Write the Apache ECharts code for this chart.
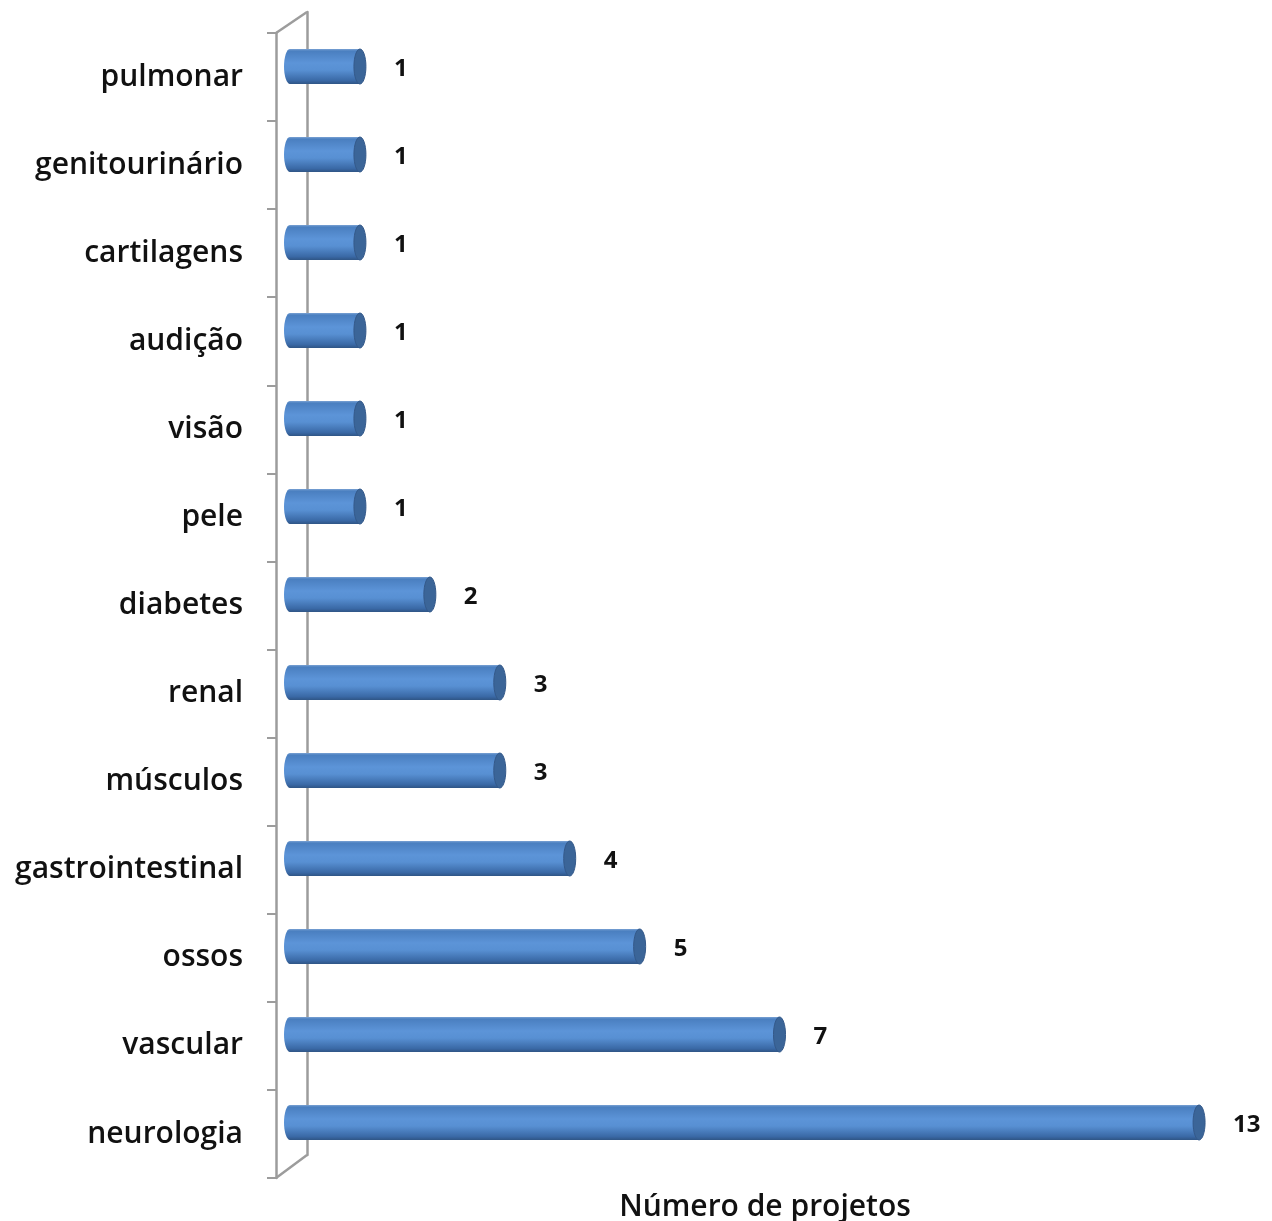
<!DOCTYPE html>
<html>
<head>
    <meta charset="utf-8">
    <title>Número de projetos</title>
    <script src="https://cdn.jsdelivr.net/npm/echarts@6/dist/echarts.min.js"></script>
    <style>
        html, body { margin: 0; padding: 0; background: #fff; }
        #main { width: 1272px; height: 1221px; }
    </style>
</head>
<body>
<div id="main"></div>
<script>
    // dados (de cima para baixo)
    var categorias = ['pulmonar', 'genitourinário', 'cartilagens', 'audição', 'visão', 'pele',
        'diabetes', 'renal', 'músculos', 'gastrointestinal', 'ossos', 'vascular', 'neurologia'];
    var projetos = [1, 1, 1, 1, 1, 1, 2, 3, 3, 4, 5, 7, 13];
    var eixoNome = 'Número de projetos';

    var fonte = '"Open Sans", "Noto Sans", sans-serif';
    var corParede = '#9c9c9c';

    // parede 3D: frente / fundo
    var frente = {left: 276, top: 33, height: 1145};
    var fundo = {left: 307, top: 12, height: 1143};
    var barras = {left: 290, top: 22.5, height: 1144};

    var myChart = echarts.init(document.getElementById('main'));

    var dados = projetos.map(function (v, i) { return [v, i]; });

    var option = {
        animation: false,
        grid: [
            {left: frente.left, top: frente.top, height: frente.height, width: 978, outerBoundsMode: 'none'},
            {left: fundo.left, top: fundo.top, height: fundo.height, width: 900, outerBoundsMode: 'none'},
            {left: barras.left, top: barras.top, height: barras.height, width: 979, outerBoundsMode: 'none'}
        ],
        xAxis: [
            {gridIndex: 0, type: 'value', min: 0, max: 14, axisLine: {show: false}, axisTick: {show: false},
                axisLabel: {show: false}, splitLine: {show: false},
                name: eixoNome, nameLocation: 'middle', nameGap: 14,
                nameTextStyle: {fontFamily: fonte, fontSize: 30, fontWeight: 600, color: '#111'}},
            {gridIndex: 1, type: 'value', show: false, min: 0, max: 14},
            {gridIndex: 2, type: 'value', show: false, min: 0, max: 14}
        ],
        yAxis: [
            {gridIndex: 0, type: 'category', inverse: true, data: categorias,
                axisLine: {show: true, lineStyle: {color: corParede, width: 2.5}},
                axisTick: {show: true, length: 9, lineStyle: {color: corParede, width: 2}},
                axisLabel: {margin: 33, padding: [14, 0, 0, 0], fontFamily: fonte, fontSize: 30,
                    fontWeight: 600, color: '#111'}},
            {gridIndex: 1, type: 'category', inverse: true, data: categorias,
                axisLine: {show: true, lineStyle: {color: corParede, width: 2.5}},
                axisTick: {show: false}, axisLabel: {show: false}},
            {gridIndex: 2, type: 'category', inverse: true, data: categorias, show: false}
        ],
        graphic: [
            {type: 'line', shape: {x1: frente.left, y1: frente.top, x2: fundo.left, y2: fundo.top},
                style: {stroke: corParede, lineWidth: 2.5}},
            {type: 'line', shape: {x1: frente.left, y1: frente.top + frente.height,
                    x2: fundo.left, y2: fundo.top + fundo.height},
                style: {stroke: corParede, lineWidth: 2.5}}
        ],
        series: [{
            type: 'custom',
            xAxisIndex: 2,
            yAxisIndex: 2,
            data: dados,
            encode: {x: 0, y: 1},
            renderItem: function (params, api) {
                var v = api.value(0);
                var ini = api.coord([0, api.value(1)]);
                var fim = api.coord([v, api.value(1)]);
                var h = 35;
                var rx = 6;
                var y0 = ini[1] - h / 2;
                var grad = new echarts.graphic.LinearGradient(0, 0, 0, 1, [
                    {offset: 0, color: '#7aa2d4'},
                    {offset: 0.06, color: '#4a7fc0'},
                    {offset: 0.4, color: '#5c94d8'},
                    {offset: 0.6, color: '#5890d3'},
                    {offset: 0.9, color: '#3a69a6'},
                    {offset: 1, color: '#2f5585'}
                ]);
                return {
                    type: 'group',
                    children: [
                        {type: 'ellipse', shape: {cx: ini[0], cy: ini[1], rx: rx, ry: h / 2},
                            style: {fill: grad}},
                        {type: 'rect', shape: {x: ini[0], y: y0, width: fim[0] - ini[0], height: h},
                            style: {fill: grad}},
                        {type: 'ellipse', shape: {cx: fim[0], cy: fim[1], rx: rx, ry: h / 2},
                            style: {fill: '#3b6598', stroke: '#34598a', lineWidth: 1}},
                        {type: 'text', style: {text: String(v), x: fim[0] + rx + 28, y: fim[1] + 3,
                                verticalAlign: 'middle', align: 'left',
                                font: 'bold 24px ' + fonte, fill: '#111'}}
                    ]
                };
            }
        }]
    };

    myChart.setOption(option);
</script>
</body>
</html>
